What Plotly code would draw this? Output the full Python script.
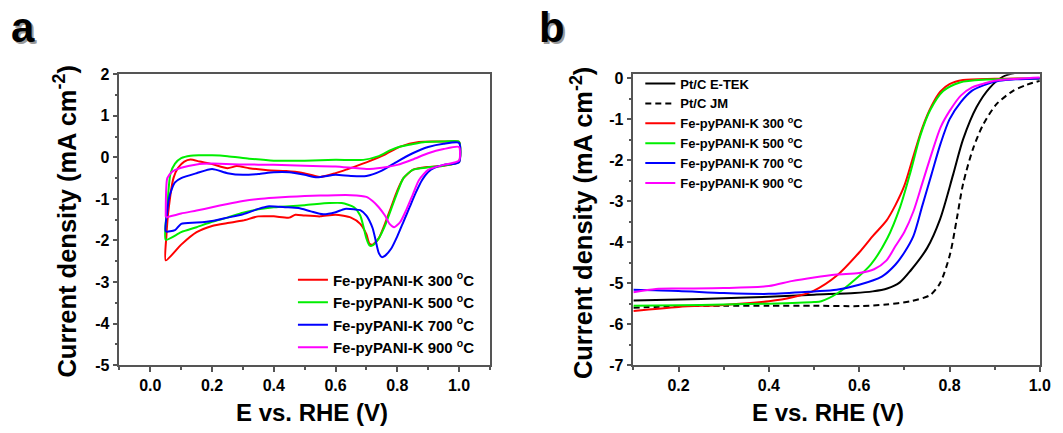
import plotly.graph_objects as go

# ---------------- Panel a: CV data (anodic sweep then cathodic sweep) ----------------
cv300_v = [0.05, 0.052, 0.06, 0.075, 0.09, 0.11, 0.13, 0.16, 0.2, 0.25, 0.28, 0.32, 0.38, 0.44, 0.49, 0.55, 0.6, 0.64, 0.7, 0.76, 0.81, 0.87, 0.92, 0.96, 1.0,
           1.0, 0.95, 0.9, 0.85, 0.82, 0.8, 0.78, 0.76, 0.74, 0.72, 0.71, 0.70, 0.68, 0.65, 0.6, 0.55, 0.5, 0.47, 0.45, 0.4, 0.35, 0.3, 0.25, 0.2, 0.15, 0.1, 0.05]
cv300_j = [-2.48, -1.9, -1.2, -0.5, -0.25, -0.1, -0.05, -0.1, -0.16, -0.26, -0.21, -0.26, -0.31, -0.33, -0.37, -0.47, -0.38, -0.28, -0.12, 0.07, 0.26, 0.37, 0.38, 0.38, 0.37,
           -0.1, -0.2, -0.23, -0.3, -0.5, -0.8, -1.2, -1.6, -1.95, -2.1, -2.08, -1.85, -1.6, -1.45, -1.38, -1.42, -1.4, -1.38, -1.45, -1.42, -1.42, -1.52, -1.58, -1.65, -1.8, -2.1, -2.48]

cv500_v = [0.05, 0.055, 0.065, 0.08, 0.1, 0.13, 0.16, 0.2, 0.25, 0.32, 0.4, 0.5, 0.6, 0.69, 0.74, 0.78, 0.81, 0.85, 0.89, 0.95, 1.0,
           1.0, 0.95, 0.9, 0.85, 0.82, 0.8, 0.78, 0.76, 0.74, 0.72, 0.71, 0.70, 0.69, 0.68, 0.66, 0.62, 0.58, 0.5, 0.4, 0.35, 0.3, 0.25, 0.2, 0.15, 0.1, 0.05]
cv500_j = [-1.98, -1.2, -0.4, -0.15, -0.02, 0.04, 0.05, 0.05, 0.03, -0.03, -0.08, -0.08, -0.06, -0.06, 0.03, 0.18, 0.26, 0.32, 0.37, 0.38, 0.38,
           -0.1, -0.2, -0.24, -0.3, -0.5, -0.85, -1.25, -1.65, -1.95, -2.12, -2.12, -1.95, -1.65, -1.4, -1.2, -1.1, -1.1, -1.15, -1.2, -1.25, -1.33, -1.45, -1.55, -1.68, -1.8, -1.98]

cv700_v = [0.05, 0.055, 0.06, 0.07, 0.08, 0.1, 0.15, 0.2, 0.25, 0.3, 0.35, 0.4, 0.45, 0.5, 0.54, 0.6, 0.65, 0.7, 0.75, 0.8, 0.85, 0.9, 0.95, 1.0,
           1.0, 0.95, 0.92, 0.9, 0.88, 0.86, 0.84, 0.82, 0.8, 0.78, 0.76, 0.75, 0.74, 0.73, 0.72, 0.70, 0.68, 0.66, 0.63, 0.6, 0.56, 0.52, 0.48, 0.44, 0.38, 0.35, 0.3, 0.25, 0.2, 0.15, 0.1, 0.08, 0.05]
cv700_j = [-1.78, -1.3, -1.0, -0.75, -0.6, -0.5, -0.38, -0.28, -0.38, -0.42, -0.4, -0.36, -0.36, -0.42, -0.48, -0.42, -0.45, -0.45, -0.32, -0.1, 0.1, 0.25, 0.33, 0.35,
           -0.12, -0.18, -0.25, -0.35, -0.55, -0.85, -1.2, -1.55, -1.9, -2.2, -2.37, -2.4, -2.3, -2.0, -1.7, -1.4, -1.27, -1.25, -1.24, -1.32, -1.37, -1.3, -1.22, -1.2, -1.18, -1.24, -1.37, -1.45, -1.53, -1.57, -1.6, -1.75, -1.78]

cv900_v = [0.05, 0.055, 0.07, 0.1, 0.15, 0.2, 0.3, 0.4, 0.5, 0.6, 0.7, 0.75, 0.8, 0.85, 0.9, 0.95, 1.0,
           1.0, 0.95, 0.9, 0.87, 0.85, 0.83, 0.81, 0.79, 0.775, 0.76, 0.74, 0.72, 0.7, 0.65, 0.6, 0.55, 0.5, 0.45, 0.4, 0.35, 0.3, 0.25, 0.2, 0.15, 0.1, 0.05]
cv900_j = [-1.43, -0.5, -0.35, -0.25, -0.17, -0.15, -0.17, -0.18, -0.2, -0.22, -0.28, -0.25, -0.18, -0.05, 0.1, 0.2, 0.25,
           -0.08, -0.18, -0.3, -0.55, -0.9, -1.25, -1.55, -1.68, -1.6, -1.4, -1.2, -1.05, -0.95, -0.91, -0.91, -0.92, -0.93, -0.95, -0.97, -1.0, -1.05, -1.12, -1.2, -1.28, -1.35, -1.45]

# ---------------- Panel b: LSV data ----------------
etek_v = [0.1, 0.2, 0.3, 0.4, 0.5, 0.59, 0.63, 0.662, 0.69, 0.714, 0.75, 0.779, 0.808, 0.83, 0.86, 0.889, 0.918, 0.94, 0.97, 1.0]
etek_j = [-5.42, -5.4, -5.37, -5.33, -5.28, -5.24, -5.2, -5.13, -4.98, -4.69, -4.15, -3.44, -2.35, -1.49, -0.7, -0.23, 0.04, 0.12, 0.18, 0.2]

jm_v = [0.1, 0.2, 0.3, 0.4, 0.5, 0.6, 0.66, 0.714, 0.757, 0.779, 0.801, 0.816, 0.83, 0.852, 0.874, 0.904, 0.94, 0.97, 1.0]
jm_j = [-5.6, -5.56, -5.55, -5.55, -5.55, -5.56, -5.52, -5.44, -5.29, -5.0, -4.3, -3.44, -2.58, -1.72, -1.14, -0.63, -0.31, -0.16, -0.06]

k300_v = [0.1, 0.2, 0.3, 0.4, 0.45, 0.5, 0.55, 0.6, 0.63, 0.66, 0.68, 0.7, 0.72, 0.74, 0.76, 0.78, 0.8, 0.83, 0.9, 1.0]
k300_j = [-5.68, -5.58, -5.53, -5.44, -5.35, -5.18, -4.82, -4.25, -3.85, -3.48, -3.1, -2.62, -1.9, -1.2, -0.68, -0.32, -0.14, -0.04, -0.01, 0.0]

k500_v = [0.1, 0.2, 0.3, 0.4, 0.5, 0.516, 0.553, 0.589, 0.626, 0.662, 0.691, 0.714, 0.735, 0.757, 0.786, 0.823, 0.882, 1.0]
k500_j = [-5.55, -5.54, -5.52, -5.5, -5.46, -5.44, -5.24, -4.93, -4.54, -3.91, -3.13, -2.27, -1.41, -0.78, -0.31, -0.1, -0.03, 0.0]

k700_v = [0.1, 0.2, 0.3, 0.4, 0.5, 0.55, 0.6, 0.65, 0.68, 0.7, 0.72, 0.74, 0.76, 0.78, 0.8, 0.825, 0.85, 0.875, 0.91, 0.95, 1.0]
k700_j = [-5.16, -5.19, -5.24, -5.26, -5.2, -5.16, -5.04, -4.84, -4.55, -4.25, -3.85, -3.1, -2.35, -1.6, -1.0, -0.58, -0.3, -0.17, -0.06, -0.02, 0.0]

k900_v = [0.1, 0.15, 0.2, 0.3, 0.4, 0.45, 0.5, 0.55, 0.6, 0.633, 0.66, 0.68, 0.7, 0.72, 0.74, 0.76, 0.78, 0.8, 0.825, 0.85, 0.875, 0.9, 1.0]
k900_j = [-5.22, -5.14, -5.13, -5.12, -5.07, -4.95, -4.86, -4.79, -4.75, -4.66, -4.45, -4.1, -3.75, -3.25, -2.55, -1.85, -1.2, -0.8, -0.42, -0.22, -0.13, -0.06, 0.02]

labels_k = ["Fe-pyPANI-K 300 <sup>o</sup>C", "Fe-pyPANI-K 500 <sup>o</sup>C",
            "Fe-pyPANI-K 700 <sup>o</sup>C", "Fe-pyPANI-K 900 <sup>o</sup>C"]
labels_pt = ["Pt/C E-TEK", "Pt/C JM"]
colors_k = ["#FF0000", "#00EE00", "#0000FF", "#FF00FF"]

a_ytickvals = [2, 1, 0, -1, -2, -3, -4, -5]
a_yticktext = ["2", "1", "0", "-1", "-2", "-3", "-4", "-5"]
a_xtickvals = [0.0, 0.2, 0.4, 0.6, 0.8, 1.0]
a_xticktext = ["0.0", "0.2", "0.4", "0.6", "0.8", "1.0"]
b_ytickvals = [0, -1, -2, -3, -4, -5, -6, -7]
b_yticktext = ["0", "-1", "-2", "-3", "-4", "-5", "-6", "-7"]
b_xtickvals = [0.2, 0.4, 0.6, 0.8, 1.0]
b_xticktext = ["0.2", "0.4", "0.6", "0.8", "1.0"]

FONT = "Liberation Sans, Arial, sans-serif"
W, H = 1063, 433

fig = go.Figure()

cv_sets = [(cv300_v, cv300_j), (cv500_v, cv500_j), (cv700_v, cv700_j), (cv900_v, cv900_j)]
for (v, j), name, c in zip(cv_sets, labels_k, colors_k):
    fig.add_trace(go.Scatter(x=v, y=j, mode="lines", name=name, line=dict(color=c, width=2, shape="spline", smoothing=0.6),
                             xaxis="x", yaxis="y", legend="legend"))

fig.add_trace(go.Scatter(x=etek_v, y=etek_j, mode="lines", name=labels_pt[0], line=dict(color="black", width=2, shape="spline", smoothing=0.8),
                         xaxis="x2", yaxis="y2", legend="legend2"))
fig.add_trace(go.Scatter(x=jm_v, y=jm_j, mode="lines", name=labels_pt[1], line=dict(color="black", width=2, dash="6px,4px", shape="spline", smoothing=0.8),
                         xaxis="x2", yaxis="y2", legend="legend2"))
lsv_sets = [(k300_v, k300_j), (k500_v, k500_j), (k700_v, k700_j), (k900_v, k900_j)]
for (v, j), name, c in zip(lsv_sets, labels_k, colors_k):
    fig.add_trace(go.Scatter(x=v, y=j, mode="lines", name=name, line=dict(color=c, width=2, shape="spline", smoothing=0.8),
                             xaxis="x2", yaxis="y2", legend="legend2"))

axis_common = dict(showline=True, mirror=True, linecolor="#555555", linewidth=1.5, ticks="outside",
                   ticklen=5, tickwidth=1.5, tickcolor="#555555", showgrid=False, zeroline=False,
                   tickfont=dict(family=FONT, size=16, color="black", weight="bold"))
y0, y1 = 1 - 371.7 / H, 1 - 69 / H

fig.update_layout(
    width=W, height=H, margin=dict(l=0, r=0, t=0, b=0),
    paper_bgcolor="white", plot_bgcolor="white",
    font=dict(family=FONT, color="black"),
    xaxis=dict(domain=[120.7 / W, 495 / W], range=[-0.1, 1.1], tickvals=a_xtickvals, ticktext=a_xticktext,
               minor=dict(dtick=0.1, tick0=0, ticks="outside", ticklen=3, tickcolor="#555555", tickwidth=1.5), anchor="y", **axis_common),
    yaxis=dict(domain=[y0, y1], range=[-5, 2], tickvals=a_ytickvals, ticktext=a_yticktext,
               minor=dict(dtick=0.5, tick0=0, ticks="outside", ticklen=3, tickcolor="#555555", tickwidth=1.5), anchor="x", **axis_common),
    xaxis2=dict(domain=[640 / W, 1050.7 / W], range=[0.1, 1.0], tickvals=b_xtickvals, ticktext=b_xticktext,
                minor=dict(dtick=0.1, tick0=0, ticks="outside", ticklen=3, tickcolor="#555555", tickwidth=1.5), anchor="y2", **axis_common),
    yaxis2=dict(domain=[y0, y1], range=[-7, 0.1], tickvals=b_ytickvals, ticktext=b_yticktext,
                minor=dict(dtick=0.5, tick0=0, ticks="outside", ticklen=3, tickcolor="#555555", tickwidth=1.5), anchor="x2", **axis_common),
    legend=dict(x=296 / W, y=1 - 266 / H, xanchor="left", yanchor="top", bgcolor="rgba(0,0,0,0)",
                font=dict(family=FONT, size=15, color="black", weight="bold"), tracegroupgap=0, itemwidth=30),
    legend2=dict(x=647 / W, y=1 - 63 / H, xanchor="left", yanchor="top", bgcolor="rgba(0,0,0,0)",
                 font=dict(family=FONT, size=13, color="black", weight="bold"), tracegroupgap=0, itemwidth=30),
    showlegend=True,
)

ann_font_t = dict(family=FONT, size=24, color="black", weight="bold")
ann_font_y = dict(family=FONT, size=25.5, color="black", weight="bold")
annotations = [
    dict(text="Current density (mA cm<sup>-2</sup>)", x=66 / W, y=1 - 222 / H, textangle=-90, font=ann_font_y),
    dict(text="E vs. RHE (V)", x=315 / W, y=1 - 421 / H, font=ann_font_t),
    dict(text="Current density (mA cm<sup>-2</sup>)", x=588 / W, y=1 - 224 / H, textangle=-90, font=ann_font_y),
    dict(text="E vs. RHE (V)", x=837 / W, y=1 - 421 / H, font=ann_font_t),
    dict(text="a", x=25 / W, y=1 - 22 / H, font=dict(family=FONT, size=42, color="#9a9a9a", weight="bold")),
    dict(text="a", x=23 / W, y=1 - 20 / H, font=dict(family=FONT, size=42, color="black", weight="bold")),
    dict(text="b", x=560 / W, y=1 - 22 / H, font=dict(family=FONT, size=42, color="#9a9a9a", weight="bold")),
    dict(text="b", x=558 / W, y=1 - 20 / H, font=dict(family=FONT, size=42, color="black", weight="bold")),
]
for a in annotations:
    a.update(xref="paper", yref="paper", showarrow=False, xanchor="center", yanchor="middle")
fig.update_layout(annotations=annotations)

fig.write_html("out.html", config={"displayModeBar": False},
               post_script="document.body.style.margin='0';document.body.style.overflow='hidden';")
